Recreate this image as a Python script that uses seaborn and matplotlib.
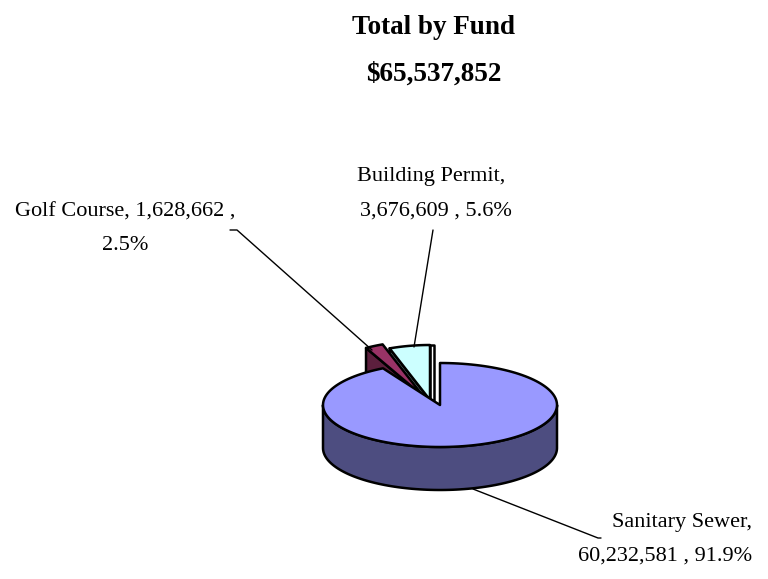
import numpy as np
import matplotlib.pyplot as plt
from matplotlib.patches import Polygon
import seaborn as sns

sns.set_style("white")
plt.rcParams['font.family'] = ['Liberation Serif', 'DejaVu Serif']
plt.rcParams['text.color'] = 'black'

# data
funds = ['Sanitary Sewer', 'Golf Course', 'Building Permit']
values = [60232581, 1628662, 3676609]
title_total = '$65,537,852'

total = sum(values)

# style for the fake 3d pie (screen pixels, y down)
top_colors = ['#9999FF', '#993366', '#CCFFFF']
side_colors = ['#4D4D80', '#5C1F3D', '#668080']
centers = [(440, 405), (423, 396), (430, 400)]   # exploded slices moved back
radii_y = [42, 55, 55]
rx, depth = 117, 43

fig = plt.figure(figsize=(7.68, 5.79), dpi=100)
ax = fig.add_axes([0, 0, 1, 1])
ax.set_xlim(0, 768)
ax.set_ylim(579, 0)
ax.axis('off')


def rim(t, c, ry, down=0.0):
    return np.column_stack([c[0] + rx * np.sin(t), c[1] - ry * np.cos(t) + down])


def draw_slice(t1, t2, c, ry, top, side, z):
    c = np.array(c, dtype=float)
    kw = dict(edgecolor='black', linewidth=1.8, joinstyle='round', zorder=z)
    # radial cut faces turned toward the viewer
    if t2 - t1 < np.pi:
        for t, sgn in ((t1, -1), (t2, 1)):
            p = rim(np.array([t]), c, ry)[0]
            if sgn * (-np.sin(t)) < -0.01:
                face = [c, p, p + [0, depth], c + [0, depth]]
                ax.add_patch(Polygon(face, facecolor=side, **kw))
            elif abs(np.sin(t)) < 0.01:
                face = [c, p, p + [4, 0], c + [4, 0]]
                ax.add_patch(Polygon(face, facecolor='white', **kw))
    # outer wall, front half only
    lo, hi = max(t1, np.pi / 2), min(t2, 3 * np.pi / 2)
    if hi > lo:
        t = np.linspace(lo, hi, 100)
        wall = np.vstack([rim(t, c, ry), rim(t[::-1], c, ry, depth)])
        ax.add_patch(Polygon(wall, facecolor=side, **kw))
    # top face
    t = np.linspace(t1, t2, 150)
    ax.add_patch(Polygon(np.vstack([c, rim(t, c, ry)]), facecolor=top, **kw))


# angles clockwise from 12 o'clock
angles = np.concatenate([[0], np.cumsum(values) / total * 2 * np.pi])
for k, i in enumerate([2, 1, 0]):
    draw_slice(angles[i], angles[i + 1], centers[i], radii_y[i],
               top_colors[i], side_colors[i], 2 + k)

pct = [v / total for v in values]

ax.text(434, 27, 'Total by Fund', ha='center', va='center', fontsize=19.5, fontweight='bold')
ax.text(434, 74, title_total, ha='center', va='center', fontsize=19.5, fontweight='bold')

fs = 16
# Building Permit
ax.text(431, 177, f'{funds[2]},', ha='center', va='center', fontsize=fs)
ax.text(436, 211, f'{values[2]:,} , {pct[2]:.1%}', ha='center', va='center', fontsize=fs)
ax.plot([433, 414], [230, 347], color='black', lw=1, zorder=10)

# Golf Course
ax.text(125, 212, f'{funds[1]}, {values[1]:,} ,', ha='center', va='center', fontsize=fs)
ax.text(125, 246, f'{pct[1]:.1%}', ha='center', va='center', fontsize=fs)
ax.plot([230, 237, 372], [230, 230, 350], color='black', lw=1, zorder=10)

# Sanitary Sewer
ax.text(752, 522, f'{funds[0]},', ha='right', va='center', fontsize=fs)
ax.text(752, 556, f'{values[0]:,} , {pct[0]:.1%}', ha='right', va='center', fontsize=fs)
ax.plot([473, 598, 601], [489, 538, 538], color='black', lw=1, zorder=10)

fig.savefig('out.png', dpi=100)
